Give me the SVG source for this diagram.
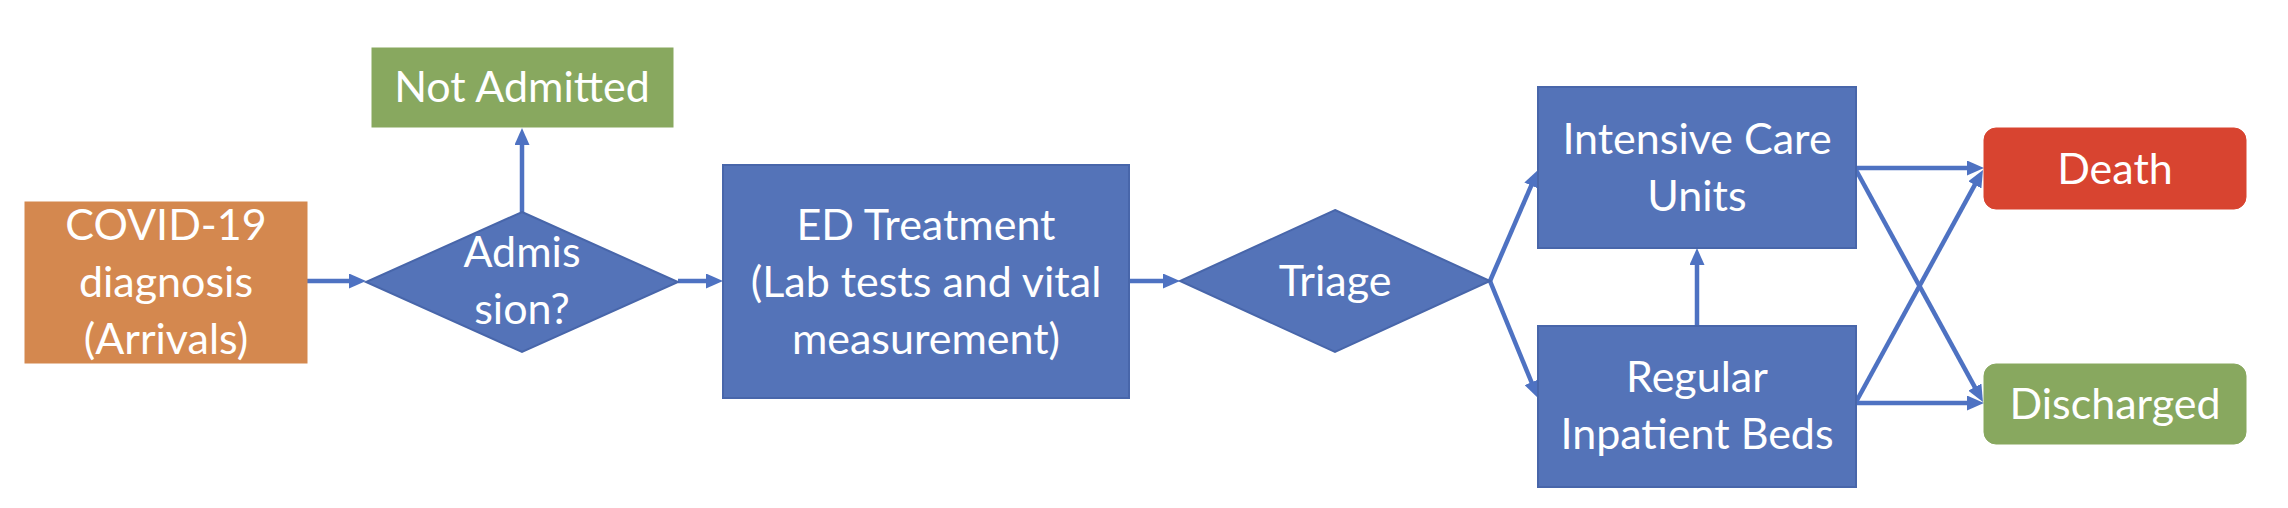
<svg xmlns="http://www.w3.org/2000/svg" width="2288" height="508" viewBox="0 0 2288 508">
  <style>
    .blue { fill: #5473B8; stroke: #4866AA; stroke-width: 2; }
    .green { fill: #88A85F; stroke: #88A85F; stroke-width: 1; }
    .red { fill: #D84430; stroke: #D84430; stroke-width: 1; }
    .orange { fill: #D4884F; stroke: #D4884F; stroke-width: 1; }
    .lbl { font-family: Lato, "Liberation Sans", sans-serif; font-size: 43px; fill: #FFFFFF; text-anchor: middle; }
    .conn { stroke: #4E72C2; stroke-width: 4.5; fill: none; marker-end: url(#arrow); }
  </style>
  <defs>
    <marker id="arrow" markerWidth="17" markerHeight="15" refX="10" refY="7.5" orient="auto" markerUnits="userSpaceOnUse">
      <path d="M0,0 L17,7.5 L0,15 z" fill="#4E72C2"/>
    </marker>
  </defs>
  <rect width="2288" height="508" fill="#FFFFFF"/>

  <g id="connectors">
    <path class="conn" d="M307,281 L359,281"/>
    <path class="conn" d="M522,212 L522,135"/>
    <path class="conn" d="M678,281 L716,281"/>
    <path class="conn" d="M1129,281 L1173,281"/>
    <path class="conn" d="M1490,281 L1535.2,176.4"/>
    <path class="conn" d="M1490,281 L1535.3,391.5"/>
    <path class="conn" d="M1697,326 L1697,255"/>
    <path class="conn" d="M1856,168 L1977,168"/>
    <path class="conn" d="M1856,170 L1979.6,395.9"/>
    <path class="conn" d="M1856,403 L1977,403"/>
    <path class="conn" d="M1856,402 L1979.6,176.1"/>
  </g>

  <g id="covid">
    <rect class="orange" x="25" y="202" width="282" height="161"/>
    <text class="lbl" x="166" y="240">COVID-19</text>
    <text class="lbl" x="166" y="297">diagnosis</text>
    <text class="lbl" x="166" y="354">(Arrivals)</text>
  </g>

  <g id="admission">
    <polygon class="blue" points="522,212 678,282 522,352 366,282"/>
    <text class="lbl" x="522" y="267">Admis</text>
    <text class="lbl" x="522" y="324">sion?</text>
  </g>

  <g id="not-admitted">
    <rect class="green" x="372" y="48" width="301" height="79"/>
    <text class="lbl" x="522" y="102">Not Admitted</text>
  </g>

  <g id="ed-treatment">
    <rect class="blue" x="723" y="165" width="406" height="233"/>
    <text class="lbl" x="926" y="240">ED Treatment</text>
    <text class="lbl" x="926" y="297">(Lab tests and vital</text>
    <text class="lbl" x="926" y="354">measurement)</text>
  </g>

  <g id="triage">
    <polygon class="blue" points="1335,210 1490,281 1335,352 1180,281"/>
    <text class="lbl" x="1335" y="296">Triage</text>
  </g>

  <g id="icu">
    <rect class="blue" x="1538" y="87" width="318" height="161"/>
    <text class="lbl" x="1697" y="154">Intensive Care</text>
    <text class="lbl" x="1697" y="211">Units</text>
  </g>

  <g id="regular">
    <rect class="blue" x="1538" y="326" width="318" height="161"/>
    <text class="lbl" x="1697" y="392">Regular</text>
    <text class="lbl" x="1697" y="449">Inpatient Beds</text>
  </g>

  <g id="death">
    <rect class="red" x="1984" y="128" width="262" height="81" rx="12" ry="12"/>
    <text class="lbl" x="2115" y="184">Death</text>
  </g>

  <g id="discharged">
    <rect class="green" x="1984" y="364" width="262" height="80" rx="12" ry="12"/>
    <text class="lbl" x="2115" y="419">Discharged</text>
  </g>
</svg>
